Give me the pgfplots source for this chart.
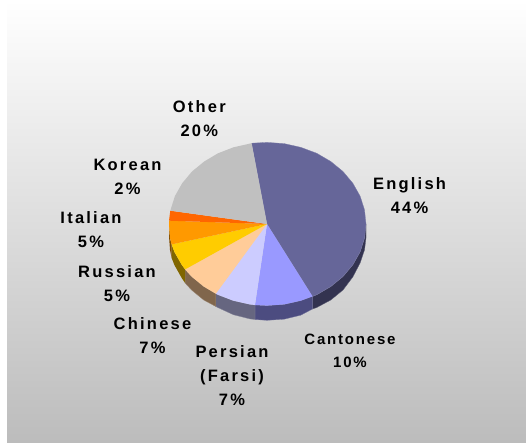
\documentclass[border=0pt]{standalone}
\usepackage{fontspec}
\setmainfont{Liberation Sans}
\newfontfamily\lab[LetterSpace=13.5]{Liberation Sans}
\newfontfamily\labc[LetterSpace=12]{Liberation Sans}
\usepackage{pgfplots}
\pgfplotsset{compat=1.18}
\definecolor{cEng}{HTML}{666699}
\definecolor{cCan}{HTML}{9999FF}
\definecolor{cPer}{HTML}{CCCCFF}
\definecolor{cChi}{HTML}{FFCC99}
\definecolor{cRus}{HTML}{FFCC00}
\definecolor{cIta}{HTML}{FF9900}
\definecolor{cKor}{HTML}{FF6600}
\definecolor{cOth}{HTML}{C0C0C0}
\definecolor{sEng}{HTML}{333350}
\definecolor{sCan}{HTML}{4C4C80}
\definecolor{sPer}{HTML}{666680}
\definecolor{sChi}{HTML}{80664C}
\definecolor{sRus}{HTML}{806600}
\definecolor{sIta}{HTML}{804C00}
\definecolor{bgb}{HTML}{BCBCBC}
\tikzset{lbl/.style={font=\lab\bfseries\fontsize{16.5}{24}\selectfont,align=center,text=black,inner sep=0pt},
  lblc/.style={font=\labc\bfseries\fontsize{15}{23}\selectfont,align=center,text=black,inner sep=0pt}}
\begin{document}
\begin{tikzpicture}[x=1pt,y=1pt]
\fill[white] (0,0) rectangle (526,443);
\shade[top color=white,bottom color=bgb] (7,0) rectangle (526,443);
\begin{axis}[at={(0,0)},anchor=south west,scale only axis,width=526pt,height=443pt,
  xmin=0,xmax=526,ymin=0,ymax=443,y dir=reverse,hide axis,clip=false]
% sides
\addplot[fill=sEng,draw=sEng!80!white,line width=0.3pt] coordinates {(366,224)(364.5,238.2)(360.1,251.9)(352.8,264.8)(343,276.5)(330.8,286.5)(316.8,294.7)(312.5,296.4)(312.5,309)(316.8,307.5)(330.8,300)(343,290)(352.8,277)(360.1,263)(364.5,250)(366,238)} -- cycle;
\addplot[fill=sCan,draw=sCan!80!white,line width=0.3pt] coordinates {(312.5,296.4)(300.7,300.7)(284.1,304.4)(267,305.6)(255,305)(255,319.5)(267,320.3)(284.1,319.2)(300.7,315.2)(312.5,309)} -- cycle;
\addplot[fill=sPer,draw=sPer!80!white,line width=0.3pt] coordinates {(255,305)(249.9,304.4)(233.3,300.7)(217.7,294.7)(215.8,293.7)(215.8,306.5)(217.7,307.5)(233.3,314.7)(249.9,318.9)(255,319.5)} -- cycle;
\addplot[fill=sChi,draw=sChi!80!white,line width=0.3pt] coordinates {(215.8,293.7)(203.7,286.5)(191.5,276.5)(185.1,269.4)(185.1,283)(191.5,290)(203.7,300)(215.8,306.5)} -- cycle;
\addplot[fill=sRus,draw=none] coordinates {(185.1,269.4)(181.7,264.8)(174.4,251.9)(171.6,244.4)(171.6,258)(174.4,265)(181.7,278)(185.1,283)} -- cycle;
\addplot[fill=sIta,draw=none] coordinates {(171.6,244.4)(170,238.2)(169,224)(169,236)(170,250)(171.6,258)} -- cycle;
% top faces
\addplot[fill=cEng,draw=cEng!85!white,line width=0.3pt] coordinates {(267,224)(251.6,143.2)(267,142.4)(284.1,143.6)(300.7,147.3)(316.8,153.3)(330.8,161.5)(343,171.5)(352.8,183.2)(360.1,196.1)(364.5,209.8)(366,224)(364.5,238.2)(360.1,251.9)(352.8,264.8)(343,276.5)(330.8,286.5)(316.8,294.7)(312.5,296.4)} -- cycle;
\addplot[fill=cCan,draw=none] coordinates {(267,224)(312.5,296.4)(300.7,300.7)(284.1,304.4)(267,305.6)(255,305)} -- cycle;
\addplot[fill=cPer,draw=none] coordinates {(267,224)(255,305)(249.9,304.4)(233.3,300.7)(217.7,294.7)(215.8,293.7)} -- cycle;
\addplot[fill=cChi,draw=none] coordinates {(267,224)(215.8,293.7)(203.7,286.5)(191.5,276.5)(185.1,269.4)} -- cycle;
\addplot[fill=cRus,draw=none] coordinates {(267,224)(185.1,269.4)(181.7,264.8)(174.4,251.9)(171.6,244.4)} -- cycle;
\addplot[fill=cIta,draw=none] coordinates {(267,224)(171.6,244.4)(170,238.2)(169,224)(169,220.7)} -- cycle;
\addplot[fill=cKor,draw=none] coordinates {(267,224)(169,220.7)(170.3,210.7)} -- cycle;
\addplot[fill=cOth,draw=none] coordinates {(267,224)(170.3,210.7)(174.9,196.1)(182.2,183.2)(192,171.5)(204.2,161.5)(218,153.3)(233.5,147.3)(249.9,143.6)(251.6,143.2)} -- cycle;
% labels
\node[lbl] at (axis cs:199.3,118.6) {Other\\20\%};
\node[lbl] at (axis cs:127.5,176.6) {Korean\\2\%};
\node[lbl] at (axis cs:91,229.6) {Italian\\5\%};
\node[lbl] at (axis cs:117,283.6) {Russian\\5\%};
\node[lbl] at (axis cs:152.5,335.6) {Chinese\\7\%};
\node[lbl] at (axis cs:232,375.6) {Persian\\(Farsi)\\7\%};
\node[lblc] at (axis cs:350,350.6) {Cantonese\\10\%};
\node[lbl] at (axis cs:409.5,195.6) {English\\44\%};
\end{axis}
\end{tikzpicture}
\end{document}
